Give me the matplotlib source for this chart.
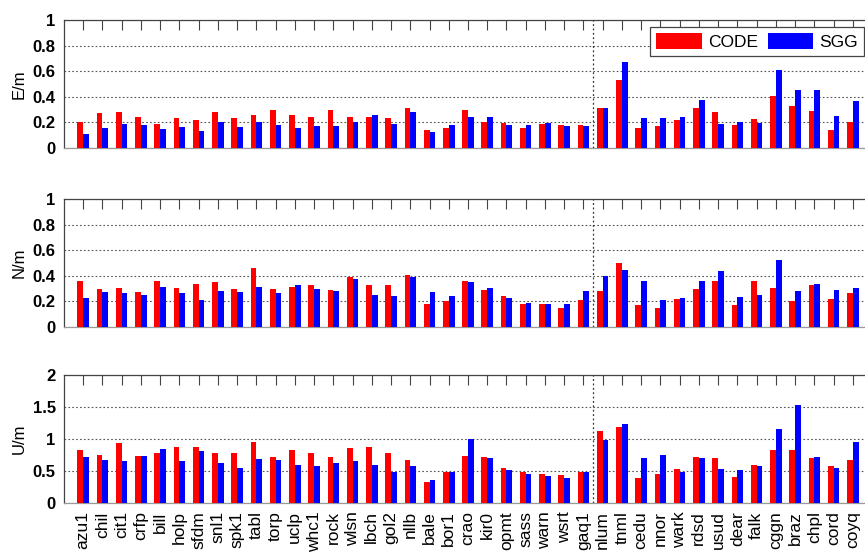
import numpy as np
import matplotlib
matplotlib.use("Agg")
import matplotlib.pyplot as plt

plt.rcParams['font.family'] = ['Liberation Sans', 'DejaVu Sans']

# Stationen
stations = ["azu1", "chil", "cit1", "crfp", "bill", "holp", "sfdm", "snl1", "spk1", "tabl",
            "torp", "uclp", "whc1", "rock", "wlsn", "lbch", "gol2", "nllb", "bale", "bor1",
            "crao", "kir0", "opmt", "sass", "warn", "wsrt", "gaq1", "nlum", "tnml", "cedu",
            "nnor", "wark", "rdsd", "usud", "dear", "falk", "cggn", "braz", "chpl", "cord",
            "coyq"]

# E-Komponente
e_code = [0.20, 0.27, 0.28, 0.24, 0.19, 0.235, 0.215, 0.28, 0.235, 0.255,
          0.30, 0.255, 0.24, 0.30, 0.24, 0.24, 0.235, 0.315, 0.14, 0.153,
          0.30, 0.205, 0.197, 0.16, 0.19, 0.177, 0.177, 0.315, 0.535, 0.153,
          0.174, 0.215, 0.315, 0.278, 0.18, 0.226, 0.41, 0.325, 0.288, 0.138,
          0.205]
e_sgg = [0.11, 0.155, 0.19, 0.18, 0.15, 0.165, 0.13, 0.20, 0.165, 0.20,
         0.18, 0.155, 0.175, 0.175, 0.205, 0.255, 0.19, 0.28, 0.128, 0.177,
         0.24, 0.24, 0.177, 0.177, 0.197, 0.17, 0.17, 0.315, 0.673, 0.236,
         0.236, 0.24, 0.377, 0.19, 0.205, 0.197, 0.613, 0.452, 0.452, 0.252,
         0.364]

# N-Komponente
n_code = [0.356, 0.30, 0.306, 0.27, 0.356, 0.306, 0.338, 0.348, 0.30, 0.462,
          0.30, 0.314, 0.325, 0.288, 0.39, 0.325, 0.327, 0.41, 0.18, 0.20,
          0.356, 0.288, 0.242, 0.18, 0.177, 0.148, 0.21, 0.278, 0.499, 0.174,
          0.148, 0.216, 0.30, 0.356, 0.174, 0.356, 0.304, 0.20, 0.327, 0.216,
          0.262]
n_sgg = [0.229, 0.27, 0.262, 0.252, 0.314, 0.262, 0.21, 0.278, 0.27, 0.314,
         0.262, 0.327, 0.30, 0.278, 0.374, 0.252, 0.242, 0.39, 0.27, 0.242,
         0.348, 0.304, 0.226, 0.187, 0.177, 0.18, 0.278, 0.40, 0.447, 0.356,
         0.21, 0.226, 0.356, 0.439, 0.234, 0.25, 0.527, 0.278, 0.338, 0.288,
         0.304]

# U-Komponente
u_code = [0.83, 0.75, 0.93, 0.736, 0.777, 0.876, 0.876, 0.777, 0.788, 0.958,
          0.72, 0.83, 0.788, 0.72, 0.86, 0.876, 0.788, 0.674, 0.33, 0.48,
          0.736, 0.72, 0.55, 0.477, 0.456, 0.435, 0.48, 1.124, 1.18, 0.383,
          0.456, 0.528, 0.72, 0.70, 0.404, 0.60, 0.83, 0.83, 0.70, 0.58,
          0.674]
u_sgg = [0.72, 0.674, 0.653, 0.736, 0.85, 0.653, 0.808, 0.632, 0.55, 0.69,
         0.674, 0.60, 0.58, 0.632, 0.653, 0.60, 0.487, 0.58, 0.355, 0.477,
         1.0, 0.70, 0.508, 0.456, 0.425, 0.383, 0.48, 0.984, 1.228, 0.70,
         0.75, 0.477, 0.70, 0.528, 0.508, 0.58, 1.15, 1.528, 0.72, 0.55,
         0.958]

panels = [("E/m", e_code, e_sgg, 1.0, [0, 0.2, 0.4, 0.6, 0.8, 1], ["0", "0.2", "0.4", "0.6", "0.8", "1"]),
          ("N/m", n_code, n_sgg, 1.0, [0, 0.2, 0.4, 0.6, 0.8, 1], ["0", "0.2", "0.4", "0.6", "0.8", "1"]),
          ("U/m", u_code, u_sgg, 2.0, [0, 0.5, 1, 1.5, 2], ["0", "0.5", "1", "1.5", "2"])]

x = np.arange(1, len(stations) + 1)
W, H = 865, 555
fig = plt.figure(figsize=(W / 100, H / 100), dpi=100)

# Achsenpositionen in Pixeln (oben, unten)
rows = [(20, 148), (199, 327), (375, 503)]
left, right = 64, 872

axes = []
for (ylab, code, sgg, ymax, yt, ytl), (top, bot) in zip(panels, rows):
    ax = fig.add_axes([left / W, 1 - bot / H, (right - left) / W, (bot - top) / H])
    ax.bar(x - 0.15, code, width=0.3, color="#ff0000", label="CODE", zorder=3)
    ax.bar(x + 0.15, sgg, width=0.3, color="#0000ff", label="SGG", zorder=3)
    ax.set_xlim(0, 42)
    ax.set_ylim(0, ymax)
    ax.set_yticks(yt)
    ax.set_yticklabels(ytl, fontsize=12, fontweight="bold")
    ax.set_ylabel(ylab, fontsize=12, labelpad=4)
    ax.set_xticks(x)
    ax.yaxis.grid(True, linestyle=(0, (1.5, 2)), color="#555555", linewidth=0.8, zorder=0)
    ax.axvline(27.5, color="#333333", linestyle=(0, (1.5, 2)), linewidth=0.9, zorder=4)
    ax.tick_params(axis="x", direction="in", top=True, bottom=True, length=7, color="#444444")
    ax.tick_params(axis="y", direction="in", left=True, length=0, pad=6)
    for s in ax.spines.values():
        s.set_color("#444444")
        s.set_linewidth(0.9)
    ax.spines["bottom"].set_color("#999999")
    axes.append(ax)

for ax in axes[:-1]:
    ax.set_xticklabels([])
axes[-1].set_xticklabels(stations, rotation=90, fontsize=12.5)
axes[-1].tick_params(axis="x", pad=6)

leg = axes[0].legend(loc="upper right", bbox_to_anchor=(864 / W, 1 - 27 / H),
                     bbox_transform=fig.transFigure, ncol=2, fontsize=12.5,
                     handlelength=2.6, handleheight=1.0, columnspacing=0.6,
                     handletextpad=0.35, borderpad=0.35, borderaxespad=0,
                     fancybox=False, framealpha=1)
leg.get_frame().set_edgecolor("#444444")
leg.get_frame().set_linewidth(0.9)
leg.set_zorder(10)

plt.savefig("out.png", dpi=100)
